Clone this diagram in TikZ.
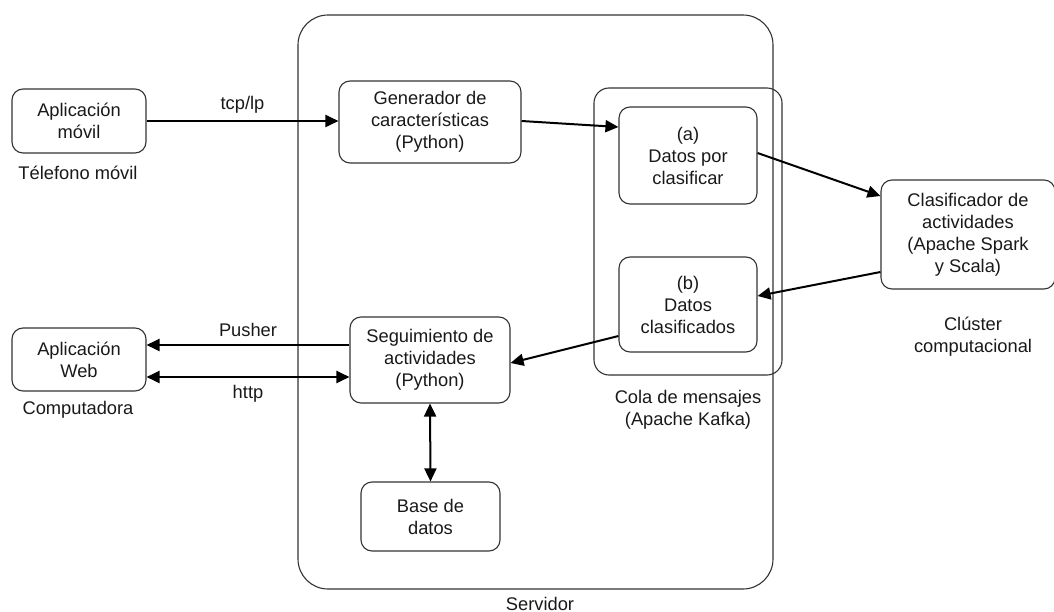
\documentclass[tikz,border=0pt]{standalone}
\usepackage{fontspec}
\setmainfont{Liberation Sans}
\usetikzlibrary{arrows.meta}
\begin{document}
\begin{tikzpicture}[x=1pt,y=-1pt,
  every node/.style={font=\fontsize{18.3}{22}\selectfont, text=black!90},
  box/.style={draw=black!80, line width=1.1pt, rounded corners=11pt, align=center, inner sep=0pt},
  caption/.style={align=center, inner sep=0pt},
  link/.style={line width=2pt, -{Triangle[length=13pt,width=12pt]}},
  both/.style={line width=2pt, {Triangle[length=13pt,width=12pt]}-{Triangle[length=13pt,width=12pt]}}]
\useasboundingbox (0,0) rectangle (1054,612);

% server and message queue frames
\node[box, rounded corners=30pt, minimum width=475pt, minimum height=574pt] (srv) at (535.5,302) {};
\node[caption, anchor=base] (srvlbl) at (540,610) {Servidor};
\node[box, rounded corners=15pt, minimum width=188pt, minimum height=287pt] (kafka) at (688,231.5) {};
\node[caption] (kafkalbl) at (688,410) {Cola de mensajes\\(Apache Kafka)};

% components
\node[box, minimum width=134pt, minimum height=64pt] (movil) at (79,121) {Aplicación\\móvil};
\node[caption] (movillbl) at (78,173) {Télefono móvil};
\node[box, minimum width=182pt, minimum height=82pt] (gen) at (430,122) {Generador de\\características\\(Python)};
\node[box, minimum width=138pt, minimum height=97pt] (qa) at (688,155.5) {(a)\\Datos por\\clasificar};
\node[box, minimum width=138pt, minimum height=95pt] (qb) at (688,304.5) {(b)\\Datos\\clasificados};
\node[box, minimum width=174pt, minimum height=109pt] (clf) at (968,234.5) {Clasificador de\\actividades\\(Apache Spark\\y Scala)};
\node[caption] (clflbl) at (973,337) {Clúster\\computacional};
\node[box, minimum width=134pt, minimum height=63pt] (web) at (79,359.5) {Aplicación\\Web};
\node[caption] (weblbl) at (78,410) {Computadora};
\node[box, minimum width=160pt, minimum height=86pt] (seg) at (430,360) {Seguimiento de\\actividades\\(Python)};
\node[box, minimum width=139pt, minimum height=69pt] (db) at (430.5,516.5) {Base de\\datos};

% connectors
\draw[link] (movil.east) -- node[above=7pt, caption] (tcp) {tcp/lp} (gen.west |- movil.east);
\draw[link] (gen.east |- 0,121) -- (qa.west |- 0,127);
\draw[link] (qa.east |- 0,153) -- (clf.west |- 0,196);
\draw[link] (clf.west |- 0,272) -- (qb.east |- 0,296);
\draw[link] (qb.west |- 0,336) -- (seg.east |- 0,363);
\draw[link] (seg.west |- 0,345) -- node[above=7pt, caption] (push) {Pusher} (web.east |- 0,345);
\draw[both] (web.east |- 0,377) -- node[below=7pt, caption] (http) {http} (seg.west |- 0,377);
\draw[both] (seg.south) -- (db.north);
\end{tikzpicture}
\end{document}
